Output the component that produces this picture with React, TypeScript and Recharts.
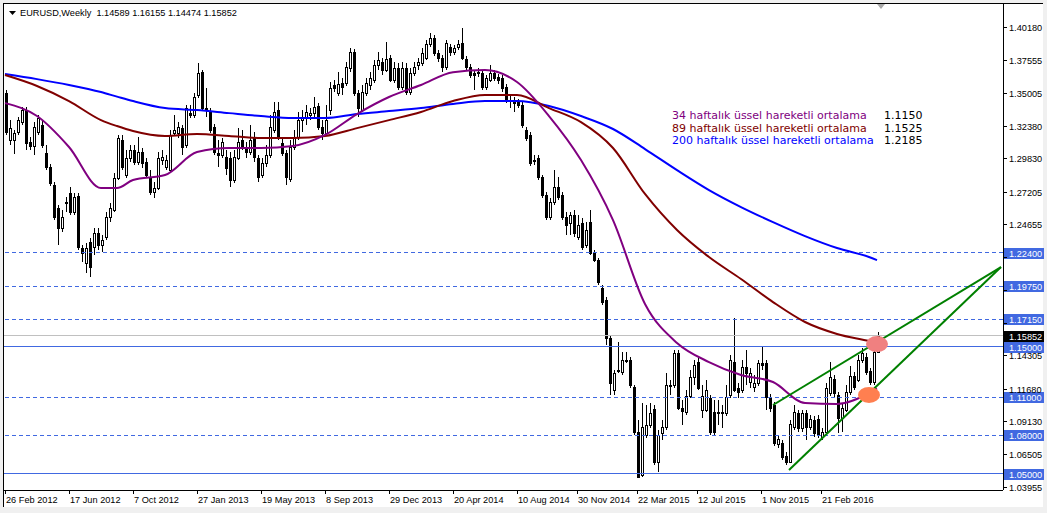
import React from 'react';
import { ComposedChart, Bar, Line, XAxis, YAxis, ReferenceLine, ReferenceDot } from 'recharts';

// Weekly EURUSD candles [open, high, low, close], 26 Feb 2012 .. 1 May 2016
const weeklyOHLC: number[][] = [
  [1.3498,1.3522,1.3168,1.3191],[1.3128,1.3285,1.3089,1.3222],[1.3128,1.3207,1.3017,1.3183],[1.3191,1.3309,1.3168,1.3285],
  [1.3269,1.3388,1.3246,1.3364],[1.3364,1.3388,1.3049,1.3104],[1.3112,1.3152,1.3049,1.3081],[1.3081,1.3269,1.3010,1.3230],
  [1.3191,1.3325,1.3168,1.3301],[1.3246,1.3285,1.3065,1.3089],[1.3025,1.3089,1.2891,1.2915],[1.2915,1.2938,1.2766,1.2789],
  [1.2774,1.2797,1.2497,1.2521],[1.2592,1.2616,1.2301,1.2434],[1.2434,1.2576,1.2403,1.2521],[1.2631,1.2679,1.2560,1.2639],
  [1.2710,1.2758,1.2537,1.2560],[1.2560,1.2710,1.2537,1.2679],[1.2687,1.2710,1.2261,1.2285],[1.2277,1.2301,1.2166,1.2237],
  [1.2158,1.2316,1.2079,1.2277],[1.2324,1.2356,1.2048,1.2127],[1.2285,1.2434,1.2222,1.2395],[1.2395,1.2434,1.2261,1.2301],
  [1.2301,1.2380,1.2245,1.2340],[1.2364,1.2560,1.2340,1.2521],[1.2521,1.2631,1.2481,1.2592],[1.2576,1.2867,1.2560,1.2828],
  [1.2828,1.3168,1.2813,1.3144],[1.3128,1.3168,1.2891,1.2915],[1.2852,1.3049,1.2828,1.2986],[1.2986,1.3089,1.2954,1.3049],
  [1.3049,1.3089,1.2931,1.2954],[1.2954,1.3152,1.2931,1.3033],[1.3033,1.3065,1.2907,1.2946],[1.2954,1.2986,1.2828,1.2852],
  [1.2828,1.2891,1.2695,1.2718],[1.2718,1.2797,1.2671,1.2750],[1.2750,1.3033,1.2734,1.2986],[1.2970,1.3049,1.2931,1.2994],
  [1.2915,1.3010,1.2891,1.2970],[1.2891,1.3207,1.2875,1.3168],[1.3183,1.3325,1.3160,1.3207],[1.3183,1.3269,1.3144,1.3230],
  [1.3222,1.3246,1.3010,1.3073],[1.3089,1.3404,1.3065,1.3380],[1.3340,1.3404,1.3301,1.3325],[1.3325,1.3498,1.3301,1.3467],
  [1.3483,1.3734,1.3459,1.3655],[1.3663,1.3679,1.3364,1.3380],[1.3380,1.3538,1.3309,1.3364],[1.3349,1.3380,1.3183,1.3207],
  [1.3230,1.3253,1.3010,1.3033],[1.3025,1.3128,1.2915,1.3010],[1.3010,1.3144,1.2986,1.3112],[1.2994,1.3049,1.2852,1.2907],
  [1.2986,1.3033,1.2758,1.2813],[1.2813,1.3049,1.2789,1.2994],[1.2986,1.3222,1.2970,1.3112],[1.3128,1.3207,1.3049,1.3073],
  [1.3065,1.3112,1.2986,1.3033],[1.3033,1.3246,1.3010,1.3128],[1.3144,1.3191,1.2954,1.2994],[1.2986,1.3010,1.2797,1.2836],
  [1.2852,1.2986,1.2828,1.2946],[1.2946,1.3089,1.2915,1.3010],[1.3010,1.3325,1.2986,1.3230],[1.3207,1.3427,1.3183,1.3349],
  [1.3364,1.3427,1.3128,1.3152],[1.3104,1.3144,1.3002,1.3025],[1.3025,1.3049,1.2774,1.2836],[1.2820,1.3128,1.2797,1.3073],
  [1.3073,1.3207,1.3049,1.3152],[1.3152,1.3349,1.3128,1.3285],[1.3285,1.3364,1.3191,1.3309],[1.3301,1.3404,1.3246,1.3349],
  [1.3325,1.3380,1.3285,1.3340],[1.3340,1.3467,1.3309,1.3388],[1.3396,1.3420,1.3207,1.3230],[1.3230,1.3285,1.3128,1.3183],
  [1.3183,1.3404,1.3168,1.3285],[1.3364,1.3585,1.3325,1.3538],[1.3562,1.3601,1.3506,1.3538],[1.3498,1.3663,1.3475,1.3569],
  [1.3577,1.3616,1.3483,1.3546],[1.3577,1.3742,1.3554,1.3703],[1.3695,1.3853,1.3663,1.3821],[1.3821,1.3845,1.3475,1.3498],
  [1.3498,1.3522,1.3309,1.3380],[1.3364,1.3562,1.3349,1.3506],[1.3498,1.3616,1.3475,1.3577],[1.3562,1.3663,1.3522,1.3616],
  [1.3601,1.3758,1.3577,1.3719],[1.3719,1.3821,1.3679,1.3758],[1.3742,1.3774,1.3640,1.3679],[1.3679,1.3900,1.3663,1.3766],
  [1.3774,1.3798,1.3585,1.3601],[1.3601,1.3742,1.3577,1.3695],[1.3695,1.3734,1.3522,1.3546],[1.3546,1.3742,1.3522,1.3695],
  [1.3695,1.3734,1.3483,1.3506],[1.3506,1.3695,1.3483,1.3655],[1.3655,1.3742,1.3632,1.3703],[1.3719,1.3774,1.3679,1.3742],
  [1.3734,1.3853,1.3711,1.3813],[1.3774,1.3916,1.3758,1.3884],[1.3884,1.3971,1.3861,1.3932],[1.3932,1.3956,1.3790,1.3813],
  [1.3813,1.3837,1.3742,1.3774],[1.3774,1.3798,1.3663,1.3703],[1.3703,1.3916,1.3679,1.3892],[1.3861,1.3884,1.3790,1.3821],
  [1.3821,1.3876,1.3798,1.3853],[1.3861,1.3916,1.3837,1.3884],[1.3892,1.4011,1.3758,1.3774],[1.3766,1.3790,1.3679,1.3703],
  [1.3703,1.3726,1.3616,1.3640],[1.3655,1.3679,1.3522,1.3640],[1.3663,1.3695,1.3624,1.3655],[1.3655,1.3679,1.3522,1.3546],
  [1.3546,1.3640,1.3522,1.3616],[1.3601,1.3719,1.3585,1.3655],[1.3655,1.3679,1.3593,1.3616],[1.3624,1.3648,1.3569,1.3601],
  [1.3616,1.3640,1.3506,1.3538],[1.3546,1.3569,1.3420,1.3443],[1.3443,1.3483,1.3380,1.3435],[1.3443,1.3467,1.3349,1.3420],
  [1.3427,1.3451,1.3380,1.3404],[1.3404,1.3427,1.3222,1.3246],[1.3207,1.3230,1.3120,1.3144],[1.3168,1.3191,1.2923,1.2946],
  [1.2970,1.3010,1.2931,1.2962],[1.2986,1.3010,1.2813,1.2836],[1.2836,1.2852,1.2671,1.2695],[1.2695,1.2718,1.2497,1.2521],
  [1.2521,1.2671,1.2497,1.2639],[1.2639,1.2891,1.2616,1.2758],[1.2758,1.2836,1.2655,1.2679],[1.2695,1.2718,1.2497,1.2521],
  [1.2521,1.2560,1.2380,1.2459],[1.2473,1.2560,1.2380,1.2537],[1.2537,1.2576,1.2364,1.2395],[1.2364,1.2537,1.2340,1.2459],
  [1.2473,1.2513,1.2261,1.2285],[1.2301,1.2481,1.2277,1.2419],[1.2481,1.2576,1.2222,1.2237],[1.2237,1.2261,1.2166,1.2182],
  [1.2182,1.2198,1.1986,1.2009],[1.1962,1.1986,1.1828,1.1851],[1.1867,1.1891,1.1513,1.1568],[1.1568,1.1592,1.1119,1.1213],
  [1.1158,1.1315,1.1119,1.1291],[1.1307,1.1536,1.1291,1.1315],[1.1299,1.1457,1.1276,1.1394],[1.1386,1.1457,1.1370,1.1394],
  [1.1394,1.1418,1.1174,1.1198],[1.1182,1.1198,1.0804,1.0827],[1.0827,1.0921,1.0464,1.0472],[1.0488,1.1055,1.0472,1.0866],
  [1.0804,1.1040,1.0780,1.0882],[1.0882,1.1055,1.0858,1.0976],[1.1008,1.1040,1.0566,1.0590],[1.0590,1.0843,1.0511,1.0804],
  [1.0819,1.0921,1.0764,1.0866],[1.0866,1.1291,1.0843,1.1198],[1.1190,1.1237,1.1119,1.1198],[1.1198,1.1473,1.1174,1.1449],
  [1.1449,1.1473,1.1000,1.1016],[1.1016,1.1079,1.0882,1.0992],[1.0984,1.1158,1.0961,1.1111],[1.1111,1.1315,1.1095,1.1260],
  [1.1260,1.1394,1.1198,1.1355],[1.1378,1.1410,1.1158,1.1174],[1.1000,1.1198,1.0937,1.1111],[1.1000,1.1237,1.0984,1.1158],
  [1.1095,1.1119,1.0804,1.0827],[1.0984,1.1079,1.0804,1.0827],[1.0976,1.1079,1.0882,1.0984],[1.0984,1.1040,1.0858,1.0976],
  [1.0976,1.1198,1.0953,1.1103],[1.1119,1.1433,1.1095,1.1394],[1.1378,1.1725,1.1142,1.1158],[1.1174,1.1213,1.1095,1.1142],
  [1.1158,1.1394,1.1134,1.1339],[1.1339,1.1473,1.1198,1.1291],[1.1221,1.1331,1.1174,1.1291],[1.1182,1.1276,1.1142,1.1213],
  [1.1213,1.1394,1.1190,1.1370],[1.1370,1.1497,1.1315,1.1355],[1.1370,1.1394,1.1000,1.1103],[1.1103,1.1127,1.0984,1.1016],
  [1.1040,1.1063,1.0717,1.0740],[1.0732,1.0804,1.0701,1.0772],[1.0740,1.0764,1.0606,1.0630],[1.0638,1.0669,1.0566,1.0590],
  [1.0590,1.0921,1.0582,1.0890],[1.0866,1.1040,1.0843,1.0984],[1.0976,1.1000,1.0827,1.0858],[1.0858,1.1000,1.0827,1.0976],
  [1.0976,1.1000,1.0764,1.0866],[1.0866,1.0961,1.0843,1.0929],[1.0921,1.0953,1.0788,1.0819],[1.0929,1.0961,1.0780,1.0804],
  [1.0788,1.0858,1.0764,1.0827],[1.0827,1.1213,1.0804,1.1174],[1.1134,1.1378,1.1111,1.1260],[1.1245,1.1276,1.1095,1.1134],
  [1.1119,1.1142,1.0819,1.0937],[1.0937,1.1055,1.0827,1.1016],[1.1000,1.1198,1.0984,1.1142],[1.1142,1.1347,1.1119,1.1268],
  [1.1268,1.1299,1.1158,1.1182],[1.1237,1.1433,1.1221,1.1394],[1.1394,1.1489,1.1370,1.1449],[1.1418,1.1449,1.1276,1.1299],
  [1.1307,1.1331,1.1198,1.1221],[1.1221,1.1489,1.1198,1.1457],[1.14589,1.16155,1.14474,1.15852],
];

const maIdx = [0,8,16,24,28,32,40,48,56,64,72,80,88,96,104,112,120,128,136,144,152,160,168,176,184,192,200,208,216,218];
const ema34 = [1.3419,1.3317,1.3073,1.2750,1.2750,1.2813,1.2852,1.3033,1.3065,1.3065,1.3081,1.3168,1.3333,1.3467,1.3562,1.3663,1.3679,1.3585,1.3317,1.2970,1.2497,1.1836,1.1529,1.1378,1.1276,1.1221,1.1055,1.1048,1.1134,1.1170];
const ema89 = [1.3640,1.3554,1.3435,1.3285,1.3238,1.3199,1.3160,1.3175,1.3160,1.3144,1.3144,1.3160,1.3222,1.3285,1.3349,1.3435,1.3483,1.3483,1.3380,1.3269,1.3065,1.2703,1.2419,1.2206,1.2033,1.1851,1.1694,1.1600,1.1544,1.1529];
const ema200 = [1.3648,1.3608,1.3562,1.3506,1.3470,1.3435,1.3380,1.3364,1.3340,1.3317,1.3301,1.3301,1.3333,1.3356,1.3380,1.3412,1.3435,1.3435,1.3396,1.3317,1.3215,1.3057,1.2891,1.2734,1.2600,1.2481,1.2371,1.2277,1.2206,1.2182];

const totalSlots = 250;
const xTickIdx = [0,16,32,48,64,80,96,112,128,143,158,173,189,204];
const xTickLabels = ['26 Feb 2012','17 Jun 2012','7 Oct 2012','27 Jan 2013','19 May 2013','8 Sep 2013','29 Dec 2013','20 Apr 2014','10 Aug 2014','30 Nov 2014','22 Mar 2015','12 Jul 2015','1 Nov 2015','21 Feb 2016'];
const yTicks = [1.40180,1.37555,1.35005,1.32380,1.29830,1.27205,1.24655,1.22030,1.19480,1.16855,1.14305,1.11680,1.09130,1.06505,1.03955];
// tick labels hidden behind the price-level boxes in the reference
const yTicksCovered = [1.22030, 1.19480, 1.16855];

const levelPrices = [1.224, 1.1975, 1.1715, 1.15, 1.11, 1.08, 1.05];
const levelDashed = [true, true, true, false, true, true, false];
const bidPrice = 1.15852;

const legendLabels = ['34 haftalık üssel hareketli ortalama', '89 haftalık üssel hareketli ortalama', '200 haftalık üssel hareketli ortalama'];
const legendValues = ['1.1150', '1.1525', '1.2185'];
const legendColors = ['#800080', '#800000', '#0000FF'];

const upperTrend = [{ x: 192, y: 1.1040 }, { x: 249, y: 1.2127 }];
const lowerTrend = [{ x: 196, y: 1.0527 }, { x: 249, y: 1.2127 }];
const pinkMark = { x: 218, y: 1.1520 };
const orangeMark = { x: 216, y: 1.1119 };

const headerText = 'EURUSD,Weekly  1.14589 1.16155 1.14474 1.15852';

const rows = Array.from({ length: totalSlots }, (_, i) => {
  const r: any = { i };
  const k = weeklyOHLC[i];
  if (k) {
    r.o = k[0]; r.h = k[1]; r.l = k[2]; r.c = k[3];
    r.range = [k[2], k[1]];
  }
  const m = maIdx.indexOf(i);
  if (m >= 0) {
    r.e34 = ema34[m]; r.e89 = ema89[m]; r.e200 = ema200[m];
  }
  return r;
});

const FONT = '"Liberation Sans", Arial, sans-serif';
const BLUE = '#4169E1';

const Candle = (props: any) => {
  const { x, y, width, height, payload } = props;
  if (!payload || payload.o == null) return null;
  const top = Math.min(y, y + height);
  const h = Math.abs(height);
  const hi = payload.h, lo = payload.l;
  const py = (v: number) => (hi === lo ? top : top + ((hi - v) / (hi - lo)) * h);
  const cx = Math.round(x + width / 2);
  const yo = py(payload.o), yc = py(payload.c);
  const bull = payload.c >= payload.o;
  const bTop = Math.round(Math.min(yo, yc));
  const bBot = Math.round(Math.max(yo, yc));
  return (
    <g shapeRendering="crispEdges">
      <line x1={cx + 0.5} x2={cx + 0.5} y1={Math.round(top)} y2={Math.round(top + h)} stroke="#000" strokeWidth={1} />
      {bBot - bTop < 1 ? (
        <line x1={cx - 1} x2={cx + 2} y1={bTop + 0.5} y2={bTop + 0.5} stroke="#000" strokeWidth={1} />
      ) : (
        <rect x={cx - 0.5} y={bTop + 0.5} width={2} height={bBot - bTop} fill={bull ? '#fff' : '#000'} stroke="#000" strokeWidth={1} />
      )}
    </g>
  );
};

const XTick = (p: any) => {
  const { x, y, payload } = p;
  const idx = xTickIdx.indexOf(payload.value);
  const label = idx >= 0 ? xTickLabels[idx] : '';
  const px = Math.round(x);
  return (
    <g>
      <line x1={px + 0.5} x2={px + 0.5} y1={y} y2={y + 4} stroke="#000" shapeRendering="crispEdges" />
      <text x={px + 1} y={y + 13} fontSize={9.2} fontFamily={FONT} fill="#000" textAnchor="start">{label}</text>
    </g>
  );
};

const YTick = (p: any) => {
  const { x, y, payload } = p;
  const py = Math.round(y);
  const covered = yTicksCovered.some((v) => Math.abs(v - payload.value) < 1e-6);
  return (
    <g>
      <line x1={x} x2={x + 4} y1={py + 0.5} y2={py + 0.5} stroke="#000" shapeRendering="crispEdges" />
      {covered ? null : (
        <text x={x + 6} y={py + 3.5} fontSize={9.2} fontFamily={FONT} fill="#000" textAnchor="start">{Number(payload.value).toFixed(5)}</text>
      )}
    </g>
  );
};

const boxLabel = (text: string, bg: string) => (props: any) => {
  const vb = props.viewBox || {};
  const ly = Math.round(vb.y ?? 0);
  const ax = (vb.x ?? 3) + (vb.width ?? 1000);
  return (
    <g>
      <rect x={ax + 1} y={ly - 5} width={40} height={11} fill={bg} />
      <text x={ax + 6} y={ly + 3.5} fontSize={9.2} fontFamily={FONT} fill="#fff" textAnchor="start">{text}</text>
    </g>
  );
};

const Ellipse = (color: string) => (props: any) => (
  <ellipse cx={props.cx} cy={props.cy} rx={11} ry={8} fill={color} />
);

export default function App() {
  return (
    <div style={{ position: 'absolute', left: 0, top: 0, width: 1047, height: 513, background: '#F0F0F0', overflow: 'hidden' }}>
      <div style={{ position: 'absolute', left: 3, top: 3, width: 1040, height: 504, background: '#fff' }} />
      <div style={{ position: 'absolute', left: 0, top: 0 }}>
        <ComposedChart width={1047} height={513} data={rows} margin={{ top: 4, right: 4, bottom: 5, left: 3 }} barCategoryGap={0}>
          <XAxis dataKey="i" type="category" ticks={xTickIdx} interval={0} tickSize={0} tickMargin={0} height={18}
            axisLine={{ stroke: '#000', shapeRendering: 'crispEdges' }} tickLine={false} tick={(p: any) => <XTick {...p} />} />
          <YAxis orientation="right" type="number" domain={[1.037, 1.42]} allowDataOverflow ticks={yTicks} interval={0}
            width={40} tickSize={0} tickMargin={0} axisLine={{ stroke: '#000', shapeRendering: 'crispEdges' }} tickLine={false}
            tick={(p: any) => <YTick {...p} />} />
          {levelPrices.map((lv, k) => (
            <ReferenceLine key={'lv' + k} y={lv} stroke={BLUE} strokeWidth={1} strokeDasharray={levelDashed[k] ? '4 3' : undefined}
              shapeRendering="crispEdges" label={boxLabel(lv.toFixed(5), BLUE)} />
          ))}
          <ReferenceLine y={bidPrice} stroke="#C0C0C0" strokeWidth={1} shapeRendering="crispEdges" label={boxLabel(bidPrice.toFixed(5), '#000')} />
          <ReferenceDot x={pinkMark.x} y={pinkMark.y} r={9} shape={Ellipse('#F08080')} />
          <ReferenceDot x={orangeMark.x} y={orangeMark.y} r={9} shape={Ellipse('#FF7F50')} />
          <Bar dataKey="range" barSize={3} shape={Candle} isAnimationActive={false} />
          <Line dataKey="e200" stroke="#0000FF" strokeWidth={2} dot={false} connectNulls type="monotone" isAnimationActive={false} />
          <Line dataKey="e89" stroke="#800000" strokeWidth={2} dot={false} connectNulls type="monotone" isAnimationActive={false} />
          <Line dataKey="e34" stroke="#800080" strokeWidth={2} dot={false} connectNulls type="monotone" isAnimationActive={false} />
          <ReferenceLine segment={upperTrend} stroke="#008000" strokeWidth={2} ifOverflow="visible" />
          <ReferenceLine segment={lowerTrend} stroke="#008000" strokeWidth={2} ifOverflow="visible" />
        </ComposedChart>
      </div>
      <svg style={{ position: 'absolute', left: 0, top: 0, pointerEvents: 'none' }} width={1047} height={513}>
        <line x1={3} x2={1043} y1={3.5} y2={3.5} stroke="#000" shapeRendering="crispEdges" />
        <line x1={3.5} x2={3.5} y1={3} y2={507} stroke="#000" shapeRendering="crispEdges" />
        <polygon points="9,11 16,11 12.5,15" fill="#000" />
        <text x={20} y={16} fontSize={9.2} fontFamily={FONT} fill="#000" style={{ whiteSpace: 'pre' }}>{headerText}</text>
        <polygon points="877,4 885,4 881,9" fill="#A8A8A8" />
        {legendLabels.map((t, k) => (
          <g key={'lg' + k}>
            <text x={672} y={119 + k * 12.5} fontSize={11} fontFamily='"DejaVu Sans", sans-serif' fill={legendColors[k]}>{t}</text>
            <text x={884} y={119 + k * 12.5} fontSize={11} fontFamily='"DejaVu Sans", sans-serif' fill="#000">{legendValues[k]}</text>
          </g>
        ))}
      </svg>
    </div>
  );
}
